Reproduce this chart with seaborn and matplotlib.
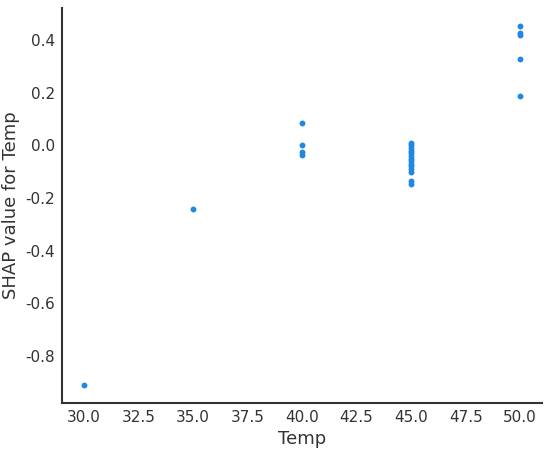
import matplotlib
matplotlib.use("Agg")
import matplotlib.pyplot as plt
import pandas as pd
import seaborn as sns

# SHAP dependence values
temp_30 = [-0.912]
temp_35 = [-0.242]
temp_40 = [0.085, 0.0, -0.025, -0.035]
temp_45 = [0.01, 0.0, -0.01, -0.02, -0.03, -0.04, -0.05, -0.06,
           -0.07, -0.08, -0.09, -0.10, -0.135, -0.148]
temp_50 = [0.455, 0.43, 0.42, 0.33, 0.19]

groups = {30: temp_30, 35: temp_35, 40: temp_40, 45: temp_45, 50: temp_50}
rows = [(t, v) for t, vals in groups.items() for v in vals]
df = pd.DataFrame(rows, columns=["Temp", "shap"])

sns.set_style("white")
plt.rcParams["font.family"] = ["DejaVu Sans"]
plt.rcParams["axes.unicode_minus"] = False

fig = plt.figure(figsize=(5.5, 4.5), dpi=100)
ax = fig.add_axes([62 / 550, 47 / 450, 480 / 550, 395 / 450])

sns.scatterplot(data=df, x="Temp", y="shap", color="#1E88E5", s=18,
                linewidth=0, ax=ax)

ax.set_xlabel("Temp", fontsize=13, color="#333333")
ax.set_ylabel("SHAP value for Temp", fontsize=13, color="#333333")
ax.set_xticks([30, 32.5, 35, 37.5, 40, 42.5, 45, 47.5, 50])
ax.set_xticklabels(["30.0", "32.5", "35.0", "37.5", "40.0", "42.5", "45.0", "47.5", "50.0"])
ax.set_yticks([0.4, 0.2, 0.0, -0.2, -0.4, -0.6, -0.8])
ax.set_yticklabels(["0.4", "0.2", "0.0", "-0.2", "-0.4", "-0.6", "-0.8"])
ax.tick_params(axis="both", labelsize=11, labelcolor="#333333", length=0, pad=5)

for side in ["top", "right"]:
    ax.spines[side].set_visible(False)
for side in ["left", "bottom"]:
    ax.spines[side].set_color("#333333")
    ax.spines[side].set_linewidth(1.5)

fig.savefig("out.png", dpi=100)
